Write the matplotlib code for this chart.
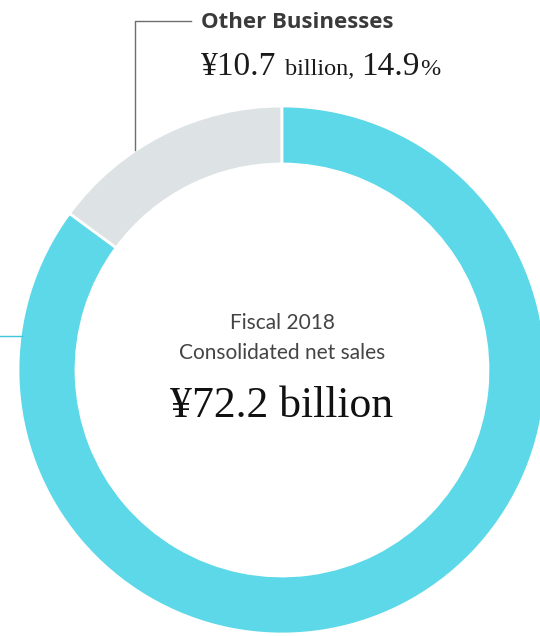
import matplotlib.pyplot as plt

# net sales breakdown, fiscal 2018 (share of total, %)
segments = ["Other Businesses", "Core Business"]
shares = [14.9, 85.1]
colors = ["#dde2e4", "#5cd8e8"]

total_sales = 72.2      # ¥ billion
other_sales = 10.7      # ¥ billion
fiscal_year = 2018

W, H = 540, 636


def px(y):
    # image rows run top-down, axes run bottom-up
    return H - y


def main():
    fig = plt.figure(figsize=(W / 100, H / 100), dpi=100)
    ax = fig.add_axes([0, 0, 1, 1])

    ax.pie(
        shares,
        colors=colors,
        radius=264,
        center=(282, px(370)),
        startangle=90,
        counterclock=True,
        wedgeprops=dict(width=58, edgecolor="white", linewidth=2.0),
    )
    ax.set_xlim(0, W)
    ax.set_ylim(0, H)
    ax.set_aspect("equal")
    ax.axis("off")

    # leader lines
    ax.plot([135, 135, 191], [px(150), px(21), px(21)], color="#6e6e6e", lw=1.0)
    ax.plot([0, 22], [px(336), px(336)], color="#3cc6d8", lw=1.0)

    sans = "Open Sans"
    serif = "Liberation Serif"

    ax.text(201, px(22), segments[0], fontsize=16, fontweight="bold",
            family=sans, color="#3a3a3a", va="center", ha="left")

    # value line with mixed sizes, pieces placed one after another
    renderer = fig.canvas.get_renderer()
    pieces = [
        (f"¥{other_sales}", 24, 0),
        ("billion,", 17.5, 9),
        (f"{shares[0]}", 24, 7),
        ("%", 17.5, 0.5),
    ]
    x = 201
    for s, size, gap in pieces:
        t = ax.text(x + gap, px(75), s, fontsize=size, family=serif,
                    color="#1a1a1a", va="baseline", ha="left")
        x = t.get_window_extent(renderer).x1

    # centre label
    ax.text(282, px(323), f"Fiscal {fiscal_year}", fontsize=15, family="Lato",
            color="#444444", ha="center", va="center")
    ax.text(282, px(353), "Consolidated net sales", fontsize=15, family="Lato",
            color="#444444", ha="center", va="center")
    ax.text(282, px(417), f"¥{total_sales} billion", fontsize=31.5, family=serif,
            color="#111111", ha="center", va="baseline")

    fig.savefig("out.png", dpi=100)


if __name__ == "__main__":
    main()
